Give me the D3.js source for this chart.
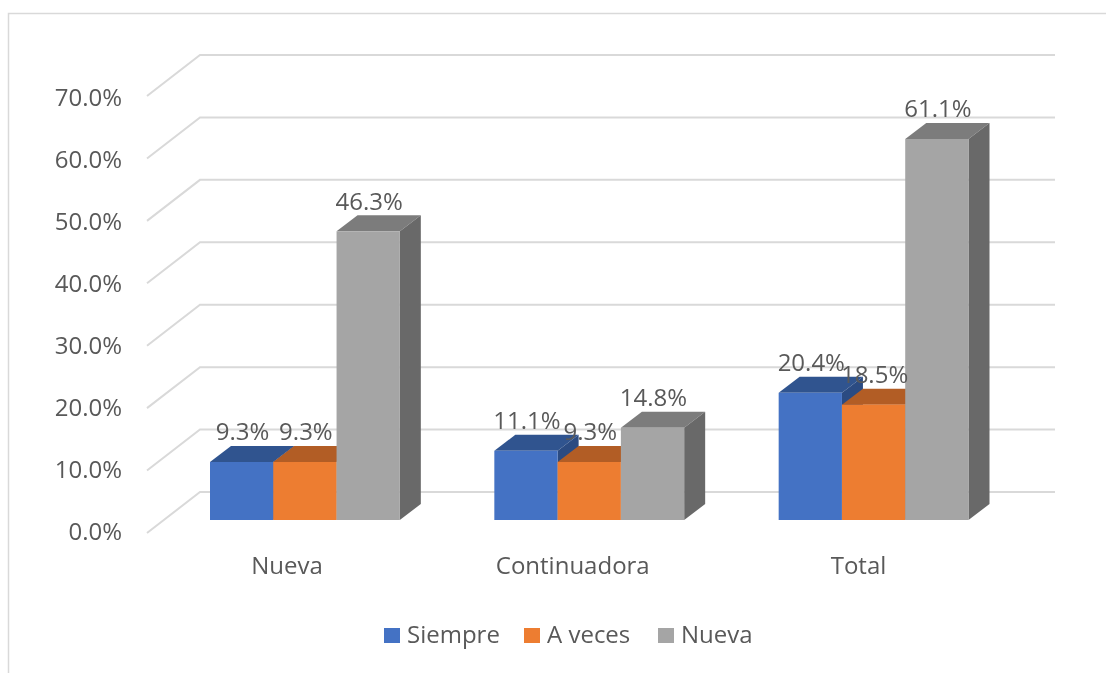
<!DOCTYPE html>
<html>
<head>
<meta charset="utf-8">
<script src="https://cdn.jsdelivr.net/npm/d3@7"></script>
<style>
body { margin: 0; background: #fff; }
svg { filter: blur(0.5px); }
text { font-family: "Open Sans", sans-serif; fill: #595959; }
</style>
</head>
<body>
<svg width="1106" height="673"></svg>
<script>
var categories = ["Nueva", "Continuadora", "Total"];
var seriesNames = ["Siempre", "A veces", "Nueva"];
var siempre = [9.3, 11.1, 20.4];
var aVeces = [9.3, 9.3, 18.5];
var nueva = [46.3, 14.8, 61.1];
var yTicks = [0, 10, 20, 30, 40, 50, 60, 70];

var seriesValues = [siempre, aVeces, nueva];
var front = ["#4472c4", "#ed7d31", "#a5a5a5"];
var top_ = ["#30548f", "#b25d25", "#7c7c7c"];
var side = ["#2b4b82", "#a0521f", "#696969"];
var fontSize = 24;

var svg = d3.select("svg");

// frame of the chart
svg.append("path")
    .attr("d", "M8.5,673V13.5H1106")
    .attr("fill", "none")
    .attr("stroke", "#d9d9d9")
    .attr("stroke-width", 1.5);

// the floor runs from y0 at the front to y0 - 41 at the back wall
var y = d3.scaleLinear().domain([0, 70]).range([533, 96]);
var depthX = 53, depthY = -41;
var floorLeft = 147, floorRight = 1002;

var yBar = d3.scaleLinear().domain([0, 70]).range([520, 83.5]);
var yLabel = d3.scaleLinear().domain([0, 70]).range([531.5, 97.5]);
var x0 = d3.scaleBand().domain(categories).range([floorLeft + 16, floorRight + 14]);
var x1 = d3.scaleBand().domain(seriesNames).range([47, x0.bandwidth() - 47.5]);
var xLabel = d3.scalePoint().domain(categories).range([287, 858.5]);

// gridlines: side wall then back wall
var grid = svg.append("g");
yTicks.forEach(function (t) {
    var points = [
        [floorLeft, y(t)],
        [floorLeft + depthX, y(t) + depthY],
        [floorRight + depthX, y(t) + depthY]
    ];
    grid.append("path")
        .attr("d", d3.line()(points))
        .attr("fill", "none")
        .attr("stroke", "#d9d9d9")
        .attr("stroke-width", 2);
});

// value axis, only the labels
var yAxis = d3.axisLeft(yLabel)
    .tickValues(yTicks)
    .tickSize(0)
    .tickPadding(0)
    .tickFormat(function (d) { return d.toFixed(1) + "%"; });
var axisG = svg.append("g")
    .attr("transform", "translate(122,0)")
    .call(yAxis);
axisG.select(".domain").remove();
axisG.selectAll("text").style("font-family", null).attr("font-size", fontSize);

// bars
var barDx = 21, barDy = -16;
categories.forEach(function (c, i) {
    seriesNames.forEach(function (s, j) {
        var v = seriesValues[j][i];
        var left = x0(c) + x1(s);
        var right = left + x1.bandwidth();
        var yTop = yBar(v);
        var yBottom = yBar(0);
        var bar = svg.append("g");
        bar.append("path")
            .attr("d", d3.line()([[left, yTop], [left + barDx, yTop + barDy], [right + barDx, yTop + barDy], [right, yTop]]) + "Z")
            .attr("fill", top_[j]);
        bar.append("path")
            .attr("d", d3.line()([[right, yTop], [right + barDx, yTop + barDy], [right + barDx, yBottom + barDy], [right, yBottom]]) + "Z")
            .attr("fill", side[j]);
        bar.append("rect")
            .attr("x", left)
            .attr("y", yTop)
            .attr("width", right - left)
            .attr("height", yBottom - yTop)
            .attr("fill", front[j]);
    });
});

// data labels go over all the bars
categories.forEach(function (c, i) {
    seriesNames.forEach(function (s, j) {
        var v = seriesValues[j][i];
        svg.append("text")
            .attr("x", x0(c) + x1(s) + x1.bandwidth() / 2 + 1)
            .attr("y", yBar(v) - 30)
            .attr("dy", "0.35em")
            .attr("text-anchor", "middle")
            .attr("font-size", fontSize)
            .text(v.toFixed(1) + "%");
    });
});

// category labels
categories.forEach(function (c) {
    svg.append("text")
        .attr("x", xLabel(c))
        .attr("y", 566)
        .attr("dy", "0.35em")
        .attr("text-anchor", "middle")
        .attr("font-size", fontSize)
        .text(c);
});

// legend
var legendX = [384, 524, 658];
seriesNames.forEach(function (s, j) {
    svg.append("rect")
        .attr("x", legendX[j])
        .attr("y", 628)
        .attr("width", 16)
        .attr("height", 15)
        .attr("fill", front[j]);
    svg.append("text")
        .attr("x", legendX[j] + 23)
        .attr("y", 635)
        .attr("dy", "0.35em")
        .attr("font-size", fontSize)
        .text(s);
});
</script>
</body>
</html>
